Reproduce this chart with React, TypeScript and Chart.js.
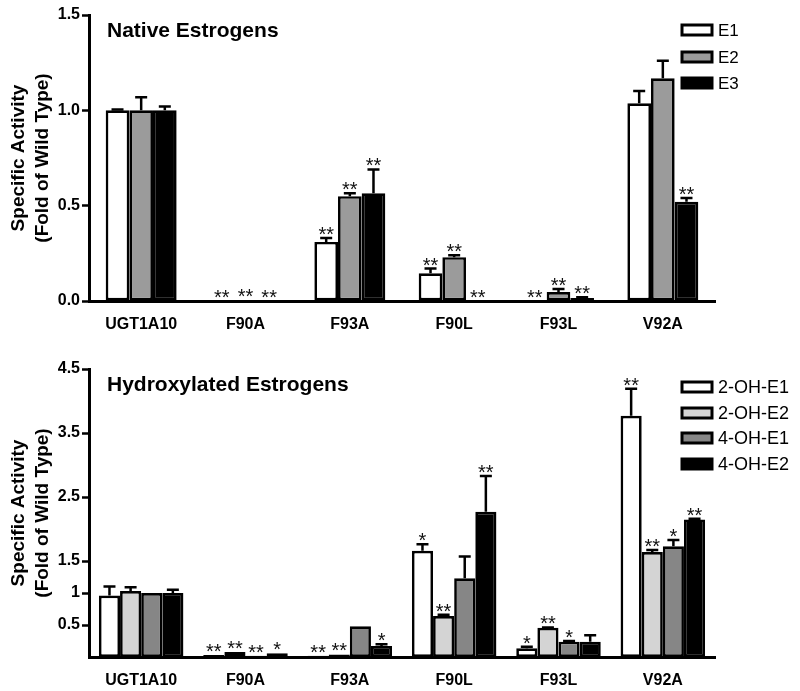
import React, { useEffect, useRef } from 'react';
import { Chart, registerables } from 'chart.js';

Chart.register(...registerables);

const FONT = '"Liberation Sans", Arial, Helvetica, sans-serif';

// ---------- shared categories ----------
const categories = ['UGT1A10', 'F90A', 'F93A', 'F90L', 'F93L', 'V92A'];

// ---------- top panel: native estrogens ----------
const nativeTitle = 'Native Estrogens';
const nativeNames = ['E1', 'E2', 'E3'];
const nativeColors = ['#ffffff', '#9b9b9b', '#000000'];
const e1Values = [1.0, 0.0, 0.31, 0.145, 0.0, 1.037];
const e1Errors = [0.005, 0, 0.02, 0.025, 0, 0.065];
const e1Stars = ['', '**', '**', '**', '**', ''];
const e2Values = [1.0, 0.003, 0.55, 0.23, 0.047, 1.168];
const e2Errors = [0.068, 0, 0.015, 0.01, 0.016, 0.092];
const e2Stars = ['', '**', '**', '**', '**', ''];
const e3Values = [1.0, 0.0, 0.565, 0.0, 0.016, 0.52];
const e3Errors = [0.02, 0, 0.125, 0, 0.004, 0.02];
const e3Stars = ['', '**', '**', '**', '**', '**'];
const nativeTickValues = [0, 0.5, 1.0, 1.5];
const nativeTickLabels = ['0.0', '0.5', '1.0', '1.5'];

// ---------- bottom panel: hydroxylated estrogens ----------
const hydroxTitle = 'Hydroxylated Estrogens';
const hydroxNames = ['2-OH-E1', '2-OH-E2', '4-OH-E1', '4-OH-E2'];
const hydroxColors = ['#ffffff', '#d4d4d4', '#868686', '#000000'];
const oh2e1Values = [0.96, 0.03, 0.02, 1.66, 0.135, 3.77];
const oh2e1Errors = [0.14, 0, 0, 0.1, 0.025, 0.42];
const oh2e1Stars = ['', '**', '**', '*', '*', '**'];
const oh2e2Values = [1.03, 0.08, 0.04, 0.64, 0.456, 1.64];
const oh2e2Errors = [0.06, 0, 0, 0.02, 0.005, 0.03];
const oh2e2Stars = ['', '**', '**', '**', '**', '**'];
const oh4e1Values = [1.0, 0.02, 0.48, 1.23, 0.24, 1.73];
const oh4e1Errors = [0, 0, 0, 0.34, 0.01, 0.1];
const oh4e1Stars = ['', '**', '', '', '*', '*'];
const oh4e2Values = [1.0, 0.06, 0.17, 2.27, 0.24, 2.15];
const oh4e2Errors = [0.05, 0, 0.03, 0.56, 0.1, 0.01];
const oh4e2Stars = ['', '*', '*', '**', '', '**'];
const hydroxTickValues = [0.5, 1, 1.5, 2.5, 3.5, 4.5];
const hydroxTickLabels = ['0.5', '1', '1.5', '2.5', '3.5', '4.5'];

type PanelProps = {
  height: number;
  title: string;
  names: string[];
  colors: string[];
  values: number[][];
  errors: number[][];
  stars: string[][];
  yMax: number;
  tickValues: number[];
  tickLabels: string[];
  padTop: number;
  xAxisHeight: number;
  categoryPercentage: number;
  legendY: number[];
  legendFont: number;
};

function Panel(p: PanelProps) {
  const ref = useRef<HTMLCanvasElement | null>(null);
  useEffect(() => {
    if (!ref.current) return;
    const overlay = {
      id: 'overlay',
      afterDatasetsDraw(chart: any) {
        const ctx = chart.ctx;
        const yScale = chart.scales.y;
        ctx.save();
        chart.data.datasets.forEach((ds: any, di: number) => {
          const meta = chart.getDatasetMeta(di);
          meta.data.forEach((bar: any, i: number) => {
            const v = p.values[di][i];
            const e = p.errors[di][i];
            const barTop = yScale.getPixelForValue(v);
            let top = barTop;
            if (e > 0.001) {
              const capY = yScale.getPixelForValue(v + e);
              ctx.strokeStyle = '#000';
              ctx.lineWidth = 2.5;
              ctx.beginPath();
              ctx.moveTo(bar.x, barTop);
              ctx.lineTo(bar.x, capY);
              ctx.moveTo(bar.x - 6, capY);
              ctx.lineTo(bar.x + 6, capY);
              ctx.stroke();
              top = capY;
            }
            const s = p.stars[di][i];
            if (s) {
              ctx.fillStyle = '#111';
              ctx.font = `20px ${FONT}`;
              ctx.textAlign = 'center';
              ctx.textBaseline = 'alphabetic';
              ctx.fillText(s, bar.x, top + 3);
            }
          });
        });
        ctx.restore();
      },
      afterDraw(chart: any) {
        const ctx = chart.ctx;
        const area = chart.chartArea;
        ctx.save();
        ctx.fillStyle = '#000';
        ctx.font = `bold 21px ${FONT}`;
        ctx.textAlign = 'left';
        ctx.textBaseline = 'middle';
        ctx.fillText(p.title, area.left + 18, area.top + 16);
        // legend
        p.names.forEach((n, i) => {
          const cy = p.legendY[i];
          ctx.fillStyle = p.colors[i];
          ctx.fillRect(682, cy - 5, 30, 10);
          ctx.strokeStyle = '#000';
          ctx.lineWidth = 3;
          ctx.strokeRect(682, cy - 5, 30, 10);
          ctx.fillStyle = '#000';
          ctx.font = `${p.legendFont}px ${FONT}`;
          ctx.textAlign = 'left';
          ctx.textBaseline = 'middle';
          ctx.fillText(n, 718, cy + 1);
        });
        ctx.restore();
      },
    };
    const chart = new Chart(ref.current, {
      type: 'bar',
      data: {
        labels: categories,
        datasets: p.names.map((n, i) => ({
          label: n,
          data: p.values[i],
          backgroundColor: p.colors[i],
          borderColor: '#000',
          borderWidth: 2.7,
          borderSkipped: false,
          categoryPercentage: p.categoryPercentage,
          barPercentage: 1.0,
        })),
      },
      options: {
        animation: false,
        responsive: false,
        devicePixelRatio: 1,
        layout: { padding: { left: 0, right: 85, top: p.padTop, bottom: 0 } },
        plugins: { legend: { display: false }, tooltip: { enabled: false }, title: { display: false } },
        scales: {
          x: {
            grid: { display: false },
            border: { display: true, color: '#000', width: 3 },
            ticks: { color: '#000', font: { family: FONT, size: 16, weight: 'bold' }, padding: 6, maxRotation: 0 },
            afterFit: (s: any) => { s.height = p.xAxisHeight; },
          },
          y: {
            min: 0,
            max: p.yMax,
            grid: { display: true, drawOnChartArea: false, drawTicks: true, tickLength: 7, tickWidth: 2.5, tickColor: '#000' },
            border: { display: true, color: '#000', width: 3 },
            afterBuildTicks: (s: any) => { s.ticks = p.tickValues.map((v) => ({ value: v })); },
            ticks: {
              color: '#000',
              padding: 2,
              font: { family: FONT, size: 16, weight: 'bold' },
              callback: (v: any) => {
                const idx = p.tickValues.indexOf(Number(v));
                return idx >= 0 ? p.tickLabels[idx] : '';
              },
            },
            title: {
              display: true,
              text: ['Specific Activity', '(Fold of Wild Type)'],
              color: '#000',
              font: { family: FONT, size: 19, weight: 'bold', lineHeight: 1.25 },
              padding: { top: 7, bottom: 0 },
            },
            afterFit: (s: any) => { s.width = 89; },
          },
        },
      },
      plugins: [overlay],
    } as any);
    return () => chart.destroy();
  }, []);
  return <canvas ref={ref} width={800} height={p.height} style={{ display: 'block', width: 800, height: p.height }} />;
}

export default function App() {
  return (
    <div style={{ position: 'absolute', left: 0, top: 0, width: 800, height: 691, background: '#fff' }}>
      <Panel
        height={330}
        title={nativeTitle}
        names={nativeNames}
        colors={nativeColors}
        values={[e1Values, e2Values, e3Values]}
        errors={[e1Errors, e2Errors, e3Errors]}
        stars={[e1Stars, e2Stars, e3Stars]}
        yMax={1.5}
        tickValues={nativeTickValues}
        tickLabels={nativeTickLabels}
        padTop={15}
        xAxisHeight={29}
        categoryPercentage={0.68}
        legendY={[30, 57, 83]}
        legendFont={17}
      />
      <Panel
        height={361}
        title={hydroxTitle}
        names={hydroxNames}
        colors={hydroxColors}
        values={[oh2e1Values, oh2e2Values, oh4e1Values, oh4e2Values]}
        errors={[oh2e1Errors, oh2e2Errors, oh4e1Errors, oh4e2Errors]}
        stars={[oh2e1Stars, oh2e2Stars, oh4e1Stars, oh4e2Stars]}
        yMax={4.5}
        tickValues={hydroxTickValues}
        tickLabels={hydroxTickLabels}
        padTop={39}
        xAxisHeight={34}
        categoryPercentage={0.81}
        legendY={[57, 83, 108, 134]}
        legendFont={18}
      />
    </div>
  );
}
